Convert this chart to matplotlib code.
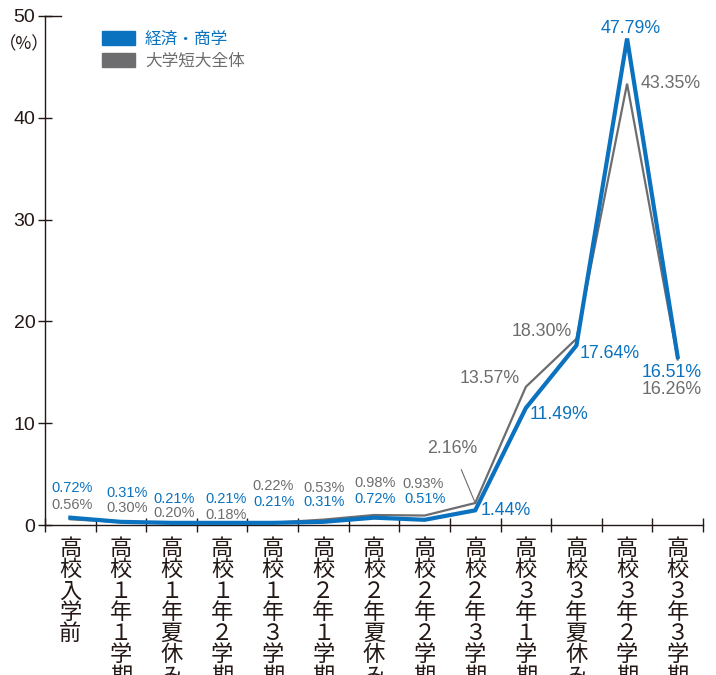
import matplotlib
matplotlib.use("Agg")
import matplotlib.pyplot as plt
from matplotlib.patches import Patch

plt.rcParams['font.family'] = ['Liberation Sans', 'Noto Sans CJK JP', 'DejaVu Sans']

# data
categories = ["高校入学前", "高校１年１学期", "高校１年夏休み", "高校１年２学期", "高校１年３学期",
              "高校２年１学期", "高校２年夏休み", "高校２年２学期", "高校２年３学期",
              "高校３年１学期", "高校３年夏休み", "高校３年２学期", "高校３年３学期"]
keizai = [0.72, 0.31, 0.21, 0.21, 0.21, 0.31, 0.72, 0.51, 1.44, 11.49, 17.64, 47.79, 16.51]
zentai = [0.56, 0.30, 0.20, 0.18, 0.22, 0.53, 0.98, 0.93, 2.16, 13.57, 18.30, 43.35, 16.26]
y_ticks = [0, 10, 20, 30, 40, 50]

# label offsets (pixels) from each point
keizai_off = [(2, 30), (6, 29), (3, 24), (4, 24), (1, 21), (1, 20), (1, 19), (0, 21),
              (31, 0), (33, -6), (33, -8), (4, 10), (-6, -16)]
zentai_off = [(2, 14), (6, 14), (3, 10), (4, 8), (0, 37), (1, 32), (1, 32), (-2, 32),
              (-23, 55), (-36, 8), (-35, 7), (44, 0), (-6, -30)]

BLUE = "#0a72bf"
GRAY = "#6d6d6f"
DARK = "#231815"

fig = plt.figure(figsize=(7.16, 6.75), dpi=100)
ax = fig.add_axes([45 / 716, 1 - 525 / 675, 658 / 716, 509 / 675])

x = list(range(len(categories)))
ax.plot(x, zentai, color=GRAY, lw=1.6, solid_joinstyle='miter', zorder=3)
ax.plot(x, keizai, color=BLUE, lw=3.0, solid_joinstyle='miter', zorder=4)

for i in x:
    fs = 10.5 if i < 8 else 12.8
    dx, dy = keizai_off[i]
    ax.annotate(f"{keizai[i]:.2f}%", (i, keizai[i]), xytext=(dx, dy), textcoords='offset pixels',
                ha='center', va='center', color=BLUE, fontsize=fs, zorder=5)
    dx, dy = zentai_off[i]
    if i == 8:
        ax.annotate(f"{zentai[i]:.2f}%", (i, zentai[i]), xytext=(dx, dy), textcoords='offset pixels',
                    ha='center', va='center', color=GRAY, fontsize=fs, zorder=5,
                    arrowprops=dict(arrowstyle='-', color=GRAY, lw=0.8, shrinkA=8, shrinkB=1))
    else:
        ax.annotate(f"{zentai[i]:.2f}%", (i, zentai[i]), xytext=(dx, dy), textcoords='offset pixels',
                    ha='center', va='center', color=GRAY, fontsize=fs, zorder=5)

ax.set_xlim(-0.5, len(categories) - 0.5)
ax.set_ylim(0, 50)
for s in ['top', 'right']:
    ax.spines[s].set_visible(False)
for s in ['left', 'bottom']:
    ax.spines[s].set_color(DARK)
    ax.spines[s].set_linewidth(1.0)

ax.set_yticks(y_ticks)
ax.tick_params(axis='y', direction='inout', length=10, width=1, color=DARK,
               labelsize=14, labelcolor=DARK, pad=2)
ax.plot([-0.5, -0.18], [50, 50], color=DARK, lw=1, clip_on=False)

ax.set_xticks([i + 0.5 for i in range(-1, len(categories))], minor=True)
ax.tick_params(axis='x', which='minor', direction='inout', length=10, width=1, color=DARK)
ax.set_xticks(x)
ax.set_xticklabels(["\n".join(c) for c in categories], va='top', linespacing=1.02)
ax.tick_params(axis='x', which='major', length=0, labelsize=16, labelcolor=DARK, pad=10)

ax.annotate("（%）", (0, 47.2), xycoords=('axes fraction', 'data'), xytext=(-21, 0),
            textcoords='offset pixels', ha='center', va='center', fontsize=12.5, color=DARK,
            family=['Noto Sans CJK JP'])

handles = [Patch(color=BLUE), Patch(color=GRAY)]
leg = ax.legend(handles, ["経済・商学", "大学短大全体"], loc='upper left',
                bbox_to_anchor=(0.086, 0.971), frameon=False, fontsize=12,
                handlelength=2.0, handleheight=0.95, handletextpad=0.6,
                labelspacing=0.35, borderpad=0, borderaxespad=0)
for t, c in zip(leg.get_texts(), [BLUE, GRAY]):
    t.set_color(c)

fig.savefig("out.png", dpi=100)
